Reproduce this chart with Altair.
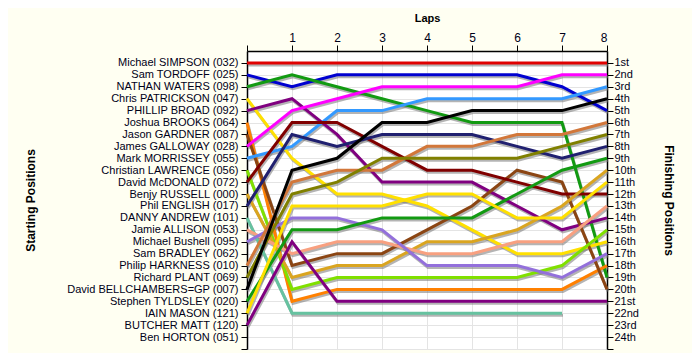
import json
import altair as alt
import pandas as pd

laps = [0, 1, 2, 3, 4, 5, 6, 7, 8]

drivers = [
    "Michael SIMPSON (032)", "Sam TORDOFF (025)", "NATHAN WATERS (098)",
    "Chris PATRICKSON (047)", "PHILLIP BROAD (092)", "Joshua BROOKS (064)",
    "Jason GARDNER (087)", "James GALLOWAY (028)", "Mark MORRISSEY (055)",
    "Christian LAWRENCE (056)", "David McDONALD (072)", "Benjy RUSSELL (000)",
    "Phil ENGLISH (017)", "DANNY ANDREW (101)", "Jamie ALLISON (053)",
    "Michael Bushell (095)", "Sam BRADLEY (062)", "Philip HARKNESS (010)",
    "Richard PLANT (069)", "David BELLCHAMBERS=GP (007)", "Stephen TYLDSLEY (020)",
    "IAIN MASON (121)", "BUTCHER MATT (120)", "Ben HORTON (051)",
]

finish_labels = [
    "1st", "2nd", "3rd", "4th", "5th", "6th", "7th", "8th", "9th", "10th",
    "11th", "12th", "13th", "14th", "15th", "16th", "17th", "18th", "19th",
    "20th", "21st", "22nd", "23rd", "24th",
]

colors = [
    "#e00000", "#0000d0", "#129a12", "#ffe000", "#800080", "#ff8000",
    "#8b4513", "#ff00ff", "#3399ff", "#80e000", "#800000", "#daa520",
    "#202070", "#66c2a0", "#f8a080", "#9370db", "#999999", "#d2773a",
    "#808000", "#000000", "#129a12", "#ffe000", "#800080", "#999999",
]

# position of each driver at laps 0..8 (None = no data)
lap_positions = [
    [1, 1, 1, 1, 1, 1, 1, 1, 1],
    [2, 3, 2, 2, 2, 2, 2, 3, 5],
    [3, 2, 3, 4, 5, 6, 6, 6, 19],
    [4, 9, 12, 12, 13, 15, 17, 17, 16],
    [5, 4, 7, 11, 11, 11, 13, 15, 14],
    [6, 21, 20, 20, 20, 20, 20, 20, 18],
    [7, 18, 17, 17, 15, 13, 10, 11, 20],
    [8, 5, 4, 3, 3, 3, 3, 2, 2],
    [9, 8, 5, 5, 4, 4, 4, 4, 3],
    [10, 20, 19, 19, 19, 19, 19, 18, 15],
    [11, 6, 6, 8, 10, 10, 11, 12, 12],
    [12, 19, 18, 18, 16, 16, 15, 13, 10],
    [13, 7, 8, 7, 7, 7, 8, 9, 8],
    [14, 22, 22, 22, 22, 22, 22, 22, None],
    [15, 17, 16, 16, 17, 17, 16, 16, 13],
    [16, 14, 14, 15, 18, 18, 18, 19, 17],
    [None] * 9,
    [18, 11, 10, 10, 8, 8, 7, 7, 6],
    [19, 12, 11, 9, 9, 9, 9, 8, 7],
    [20, 10, 9, 6, 6, 5, 5, 5, 4],
    [21, 15, 15, 14, 14, 14, 12, 10, 9],
    [22, 13, 13, 13, 12, 12, 14, 14, 11],
    [23, 16, 21, 21, 21, 21, 21, 21, 21],
    [None] * 9,
]

rows = []
for i, (name, ps) in enumerate(zip(drivers, lap_positions)):
    for lap, p in zip(laps, ps):
        if p is not None:
            rows.append({"driver": name, "idx": i, "lap": lap, "pos": p})
df = pd.DataFrame(rows)

FONT = "Liberation Sans"
TXT = "#000018"

ticks = list(range(1, 26))
left_expr = ("datum.value >= 1 && datum.value <= 24 ? "
             + json.dumps(drivers) + "[datum.value - 1] : ''")
right_expr = ("datum.value >= 1 && datum.value <= 24 ? "
              + json.dumps(finish_labels) + "[datum.value - 1] : ''")

x_enc = alt.X(
    "lap:Q",
    scale=alt.Scale(domain=[0, 8], nice=False, zero=False),
    axis=alt.Axis(
        orient="top", values=laps,
        labelExpr="datum.value == 0 ? '' : datum.label",
        grid=True, gridColor="#e4e4e4", gridWidth=1,
        tickSize=6, tickColor="black", domainColor="black", domainWidth=1.5,
        labelFont=FONT, labelFontSize=12, labelColor=TXT, labelPadding=1,
        labelOverlap=False,
        title="Laps", titleFont=FONT, titleFontSize=11, titleFontWeight="bold",
        titleColor="black", titleX=180, titleY=-33, titleBaseline="middle",
    ),
)

yscale = alt.Scale(domain=[0, 25], reverse=True, nice=False, zero=False)
color_enc = alt.Color("driver:N", scale=alt.Scale(domain=drivers, range=colors), legend=None)

shadow = alt.Chart(df).mark_line(
    strokeWidth=3, color="#777777", opacity=0.55, xOffset=1, yOffset=2
).encode(
    x=x_enc,
    y=alt.Y(
        "pos:Q", scale=yscale,
        axis=alt.Axis(
            orient="right", values=ticks, labelExpr=right_expr, grid=False,
            tickSize=6, tickColor="black", domainColor="black", domainWidth=1.5,
            labelFont=FONT, labelFontSize=11, labelColor=TXT, labelPadding=1,
            labelOverlap=False, labelBound=False,
            title="Finishing Positions", titleFont=FONT, titleFontSize=12,
            titleFontWeight="bold", titleColor="black", titleAngle=90,
            titleX=61, titleY=149, titleAlign="center", titleBaseline="middle",
        ),
    ),
    detail="driver:N",
    order="lap:Q",
)

lines = alt.Chart(df).mark_line(strokeWidth=3).encode(
    x=x_enc,
    y=alt.Y(
        "pos:Q", scale=yscale,
        axis=alt.Axis(
            orient="left", values=ticks, labelExpr=left_expr,
            grid=True, gridColor="#e4e4e4", gridWidth=1,
            tickSize=6, tickColor="black", domainColor="black", domainWidth=1.5,
            labelFont=FONT, labelFontSize=11, labelColor=TXT, labelPadding=3,
            labelOverlap=False, labelBound=False,
            title="Starting Positions", titleFont=FONT, titleFontSize=12,
            titleFontWeight="bold", titleColor="black", titleAngle=-90,
            titleX=-217, titleY=149, titleAlign="center", titleBaseline="middle",
        ),
    ),
    color=color_enc,
    order="lap:Q",
)

chart = alt.layer(shadow, lines).resolve_scale(y="independent").properties(
    width=360, height=298,
    padding={"left": 239, "top": 43, "right": 85, "bottom": 4},
    autosize=alt.AutoSizeParams(type="none"),
    background="#fffff2",
).configure_view(stroke=None, fill="white")

chart.save("out.html", embed_options={"renderer": "svg", "actions": False})
